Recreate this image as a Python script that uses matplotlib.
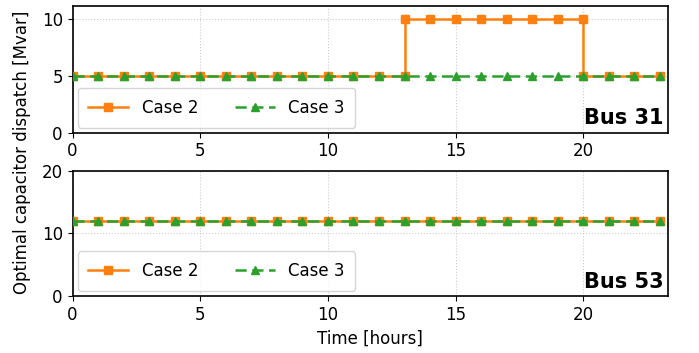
import matplotlib
matplotlib.use("Agg")
import matplotlib.pyplot as plt
import numpy as np

hours = list(range(24))
# Bus 31
case2_31_x = list(range(0, 14)) + list(range(13, 21)) + list(range(20, 24))
case2_31_y = [5] * 14 + [10] * 8 + [5] * 4
case3_31 = [5] * 24
# Bus 53
case2_53 = [11.9] * 24
case3_53 = [11.9] * 24

bus_labels = ["Bus 31", "Bus 53"]
ylims = [(0, 11.15), (0, 20)]
yticks = [[0, 5, 10], [0, 10, 20]]

orange = "#ff7f0e"
green = "#2ca02c"

plt.rcParams['font.family'] = ['DejaVu Sans']
plt.rcParams['font.size'] = 12

fig = plt.figure(figsize=(6.99, 3.53), dpi=100)
W, H = 699, 353
left, right = 72.5, 667.7
ax1 = fig.add_axes([left / W, 1 - 132.7 / H, (right - left) / W, (132.7 - 6.3) / H])
ax2 = fig.add_axes([left / W, 1 - 296 / H, (right - left) / W, (296 - 170.7) / H])

series = [
    (case2_31_x, case2_31_y, hours, case3_31),
    (hours, case2_53, hours, case3_53),
]

for ax, (x2, y2, x3, y3), lab, yl, yt in zip([ax1, ax2], series, bus_labels, ylims, yticks):
    ax.plot(x2, y2, color=orange, marker='s', markersize=6, linewidth=1.8, label='Case 2', zorder=3)
    ax.plot(x3, y3, color=green, marker='^', markersize=6, linewidth=1.8, linestyle='--',
            dashes=(4.5, 2.2), label='Case 3', zorder=4)
    ax.set_xlim(0, 23.3)
    ax.set_ylim(*yl)
    ax.set_yticks(yt)
    ax.set_xticks([0, 5, 10, 15, 20])
    ax.grid(True, linestyle=':', color='#cccccc', linewidth=0.8)
    ax.set_axisbelow(True)
    for sp in ax.spines.values():
        sp.set_linewidth(1.2)
        sp.set_color('black')
    ax.text(0.993, 0.035, lab, transform=ax.transAxes, ha='right', va='bottom',
            fontsize=15, fontweight='bold')
    ax.legend(loc='lower left', ncol=2, fontsize=12, framealpha=0.8,
              borderaxespad=0.3, borderpad=0.65, columnspacing=2.2, handlelength=2.4)
    ax.tick_params(labelsize=12)

ax2.set_xlabel('Time [hours]', fontsize=12)
fig.text(22 / W, 1 - 152 / H, 'Optimal capacitor dispatch [Mvar]', rotation=90,
         ha='center', va='center', fontsize=12)

fig.savefig('out.png', dpi=100)
